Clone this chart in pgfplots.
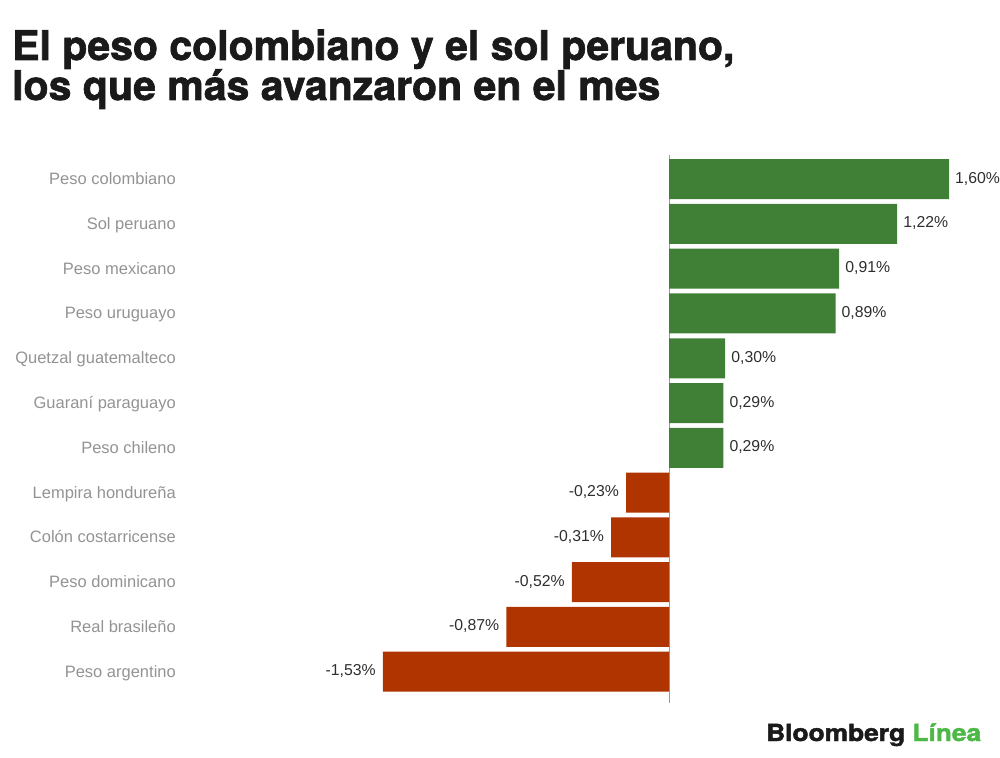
\documentclass[border=0pt]{standalone}
\usepackage{pgfplots}
\pgfplotsset{compat=1.18}
\usepackage{pgfplotstable}
\usepackage{graphicx}
\usepackage{fontspec}
\setmainfont{Liberation Sans}
\newfontfamily\titlefont[UprightFont={* Bold}, FakeBold=1.6]{TeX Gyre Heros}
\newfontfamily\logofont[UprightFont={* Bold}, FakeBold=1.8]{TeX Gyre Heros}
\definecolor{posgreen}{HTML}{3F7F36}
\definecolor{negred}{HTML}{AF3400}
\definecolor{catgray}{HTML}{939393}
\definecolor{valdark}{HTML}{2E2E2E}
\definecolor{logogreen}{HTML}{4DB848}
\definecolor{titleblack}{HTML}{1A1A1A}
\definecolor{zeroline}{HTML}{9A9A9A}

\pgfplotstableread{
idx val lx
0 1.60 1.497
1 1.22 1.22
2 0.91 0.91
3 0.89 0.89
4 0.30 0.30
5 0.29 0.29
6 0.29 0.29
}\postable
\pgfplotstableread{
idx val
7 -0.23
8 -0.31
9 -0.52
10 -0.87
11 -1.53
}\negtable

\begin{document}
\begin{tikzpicture}[x=1pt,y=1pt]
\useasboundingbox (0,0) rectangle (1000,757);
\node[anchor=base west, inner sep=0pt, text=titleblack] at (12,697) {\titlefont\fontsize{41}{41}\selectfont El peso colombiano y el sol peruano,};
\node[anchor=base west, inner sep=0pt, text=titleblack] at (12,657) {\titlefont\fontsize{41}{41}\selectfont los que más avanzaron en el mes};
\begin{axis}[
  at={(181pt,54pt)}, anchor=south west,
  scale only axis, width=768pt, height=548pt,
  xmin=-2.61, xmax=1.497, ymin=-0.54, ymax=11.7,
  y dir=reverse,
  xtick=\empty, ytick={0,...,11},
  yticklabels={Peso colombiano, Sol peruano, Peso mexicano, Peso uruguayo, Quetzal guatemalteco, Guaraní paraguayo, Peso chileno, Lempira hondureña, Colón costarricense, Peso dominicano, Real brasileño, Peso argentino},
  axis line style={draw=none},
  major tick length=0pt,
  yticklabel style={font=\fontsize{16.5}{19}\selectfont, text=catgray, inner sep=0pt, xshift=-5pt, yshift=-1.5pt, anchor=east, text height=12pt, text depth=4pt},
  extra x ticks={0}, extra x tick labels={},
  extra x tick style={grid=major, major grid style={draw=zeroline, line width=1pt}},
  /pgf/number format/assume math mode=true,
]
\addplot[xbar, bar width=40pt, bar shift=0pt, fill=posgreen, draw=none] table[x=val,y=idx]{\postable};
\addplot[xbar, bar width=40pt, bar shift=0pt, fill=negred, draw=none] table[x=val,y=idx]{\negtable};
\addplot[only marks, mark=none, point meta=explicit,
  nodes near coords={\pgfmathprintnumber[fixed,fixed zerofill,precision=2,use comma]{\pgfplotspointmeta}\%},
  every node near coord/.style={anchor=west, inner sep=0pt, xshift=6pt, text height=11.5pt, text depth=3.5pt, font=\fontsize{15.8}{18}\selectfont, text=valdark}]
  table[x=lx, y=idx, meta=val]{\postable};
\addplot[only marks, mark=none, point meta=explicit,
  nodes near coords={\pgfmathprintnumber[fixed,fixed zerofill,precision=2,use comma]{\pgfplotspointmeta}\%},
  every node near coord/.style={anchor=east, inner sep=0pt, xshift=-7pt, text height=11.5pt, text depth=3.5pt, font=\fontsize{15.8}{18}\selectfont, text=valdark}]
  table[x=val, y=idx, meta=val]{\negtable};
\end{axis}
\node[anchor=base west, inner sep=0pt] at (766,16) {\scalebox{1.12}[1]{\logofont\fontsize{23.5}{24}\selectfont\color{titleblack}Bloomberg \textcolor{logogreen}{Línea}}};
\end{tikzpicture}
\end{document}
